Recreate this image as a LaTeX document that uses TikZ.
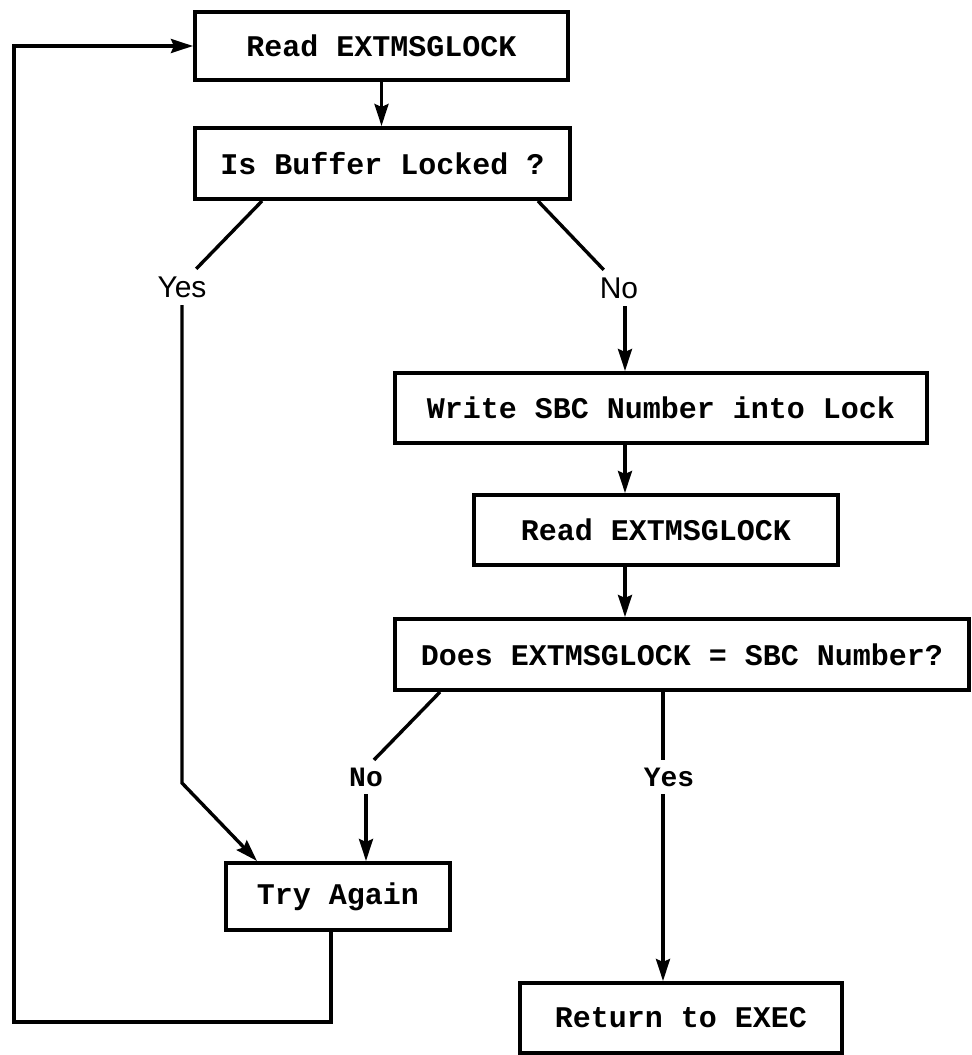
\documentclass[tikz,border=0pt]{standalone}
\usepackage{fontspec}
\setmonofont{Liberation Mono}
\setsansfont{Liberation Sans}
\usetikzlibrary{arrows.meta, positioning, calc}

\begin{document}
\begin{tikzpicture}[
    x=0.5pt, y=-0.5pt,
    >={Stealth[length=11pt, width=7pt, inset=1.5pt]},
    line width=1.7pt,
    box/.style={draw, rectangle, line width=2pt, inner sep=0pt,
                font=\ttfamily\bfseries\fontsize{15}{18}\selectfont},
    answer/.style={inner sep=3pt, font=\sffamily\fontsize{15}{17}\selectfont},
    answertt/.style={inner sep=3pt, font=\ttfamily\bfseries\fontsize{14}{16}\selectfont}
  ]
  \useasboundingbox (0,0) rectangle (972,1055);

  % --- lock test ---
  \node[box, minimum width=186.5pt, minimum height=34pt] (read1) at (381.5,46) {Read EXTMSGLOCK};
  \node[box, minimum width=187.5pt, minimum height=35.5pt] (locked) at (382.5,163.5) {Is Buffer Locked ?};
  \node[answer] (yes1) at (182,287) {Yes};
  \node[answer] (no1) at (619,288) {No};

  % --- claim the lock ---
  \node[box, minimum width=266pt, minimum height=35pt] (write) at (661,408) {Write SBC Number into Lock};
  \node[box, minimum width=182pt, minimum height=35pt] (read2) at (656,530) {Read EXTMSGLOCK};
  \node[box, minimum width=287pt, minimum height=35.5pt] (equal) at (682,654.5) {Does EXTMSGLOCK = SBC Number?};
  \node[answertt] (no2) at (366,777) {No};
  \node[answertt] (yes2) at (669,777) {Yes};

  % --- exits ---
  \node[box, minimum width=112pt, minimum height=33.5pt] (again) at (338,896.5) {Try Again};
  \node[box, minimum width=161pt, minimum height=35pt] (exec) at (681,1018) {Return to EXEC};

  \coordinate (midcol) at (625,0);
  \coordinate (rightcol) at (663,0);
  \coordinate (bendL) at (0,783);
  \coordinate (loopL) at (14,1022);

  % --- connections ---
  \draw[->] (read1.south) -- (read1.south |- locked.north);
  \draw (locked.south west) ++(69,0) -- (yes1.52);
  \draw (locked.south east) ++(-34,0) -- (no1.130);
  \draw[->] (no1.south -| midcol) -- (write.north -| midcol);
  \draw[->] (write.south -| midcol) -- (read2.north -| midcol);
  \draw[->] (read2.south -| midcol) -- (equal.north -| midcol);
  \draw[->] (yes1.south) -- (yes1.south |- bendL) -- ($(again.north west)+(33,0)$);
  \draw (equal.south west) ++(47,0) -- (no2.65);
  \draw[->] (no2.south) -- (no2.south |- again.north);
  \draw (equal.south -| rightcol) -- (yes2.north -| rightcol);
  \draw[->] (yes2.south -| rightcol) -- (exec.north -| rightcol);
  \draw[->] (again.south) ++(-7,0) |- (loopL) |- (read1.west);
\end{tikzpicture}
\end{document}
